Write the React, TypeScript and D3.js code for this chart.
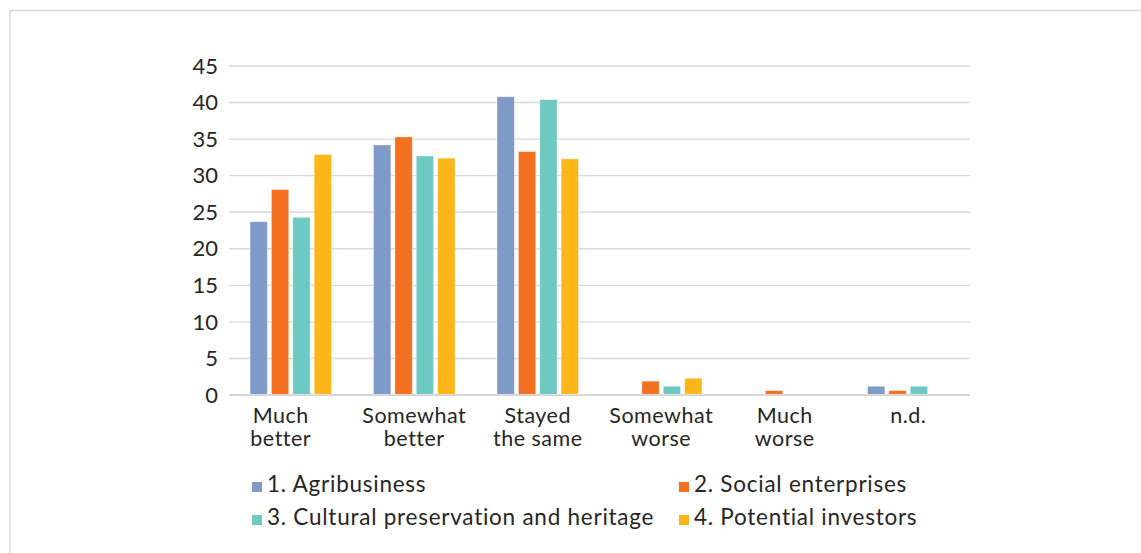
import React, { useRef, useEffect } from 'react'
import * as d3 from 'd3'

const categories = [['Much', 'better'], ['Somewhat', 'better'], ['Stayed', 'the same'], ['Somewhat', 'worse'], ['Much', 'worse'], ['n.d.']]
const seriesNames = ['1. Agribusiness', '2. Social enterprises', '3. Cultural preservation and heritage', '4. Potential investors']
const seriesColors = ['#7f99c9', '#f37021', '#6fc9c3', '#fdb61a']
const agribusiness = [23.7, 34.2, 40.8, 0, 0, 1.2]
const socialEnterprises = [28.1, 35.3, 33.3, 1.9, 0.6, 0.6]
const culturalHeritage = [24.3, 32.7, 40.4, 1.2, 0, 1.2]
const potentialInvestors = [32.9, 32.4, 32.3, 2.3, 0, 0]
const yTicks = [0, 5, 10, 15, 20, 25, 30, 35, 40, 45]

const FONT = 'Lato, "Open Sans", sans-serif'

const Chart: React.FC = () => {
  const ref = useRef<SVGSVGElement>(null)
  useEffect(() => {
    const width = 1141
    const height = 553
    const svg = d3.select(ref.current)
    svg.selectAll('*').remove()

    // outer chart border, runs off the right and bottom edge
    svg
      .append('rect')
      .attr('x', 10)
      .attr('y', 10.5)
      .attr('width', width + 50)
      .attr('height', height + 50)
      .attr('fill', '#fff')
      .attr('stroke', '#d9d9d9')
      .attr('stroke-width', 1.5)

    const margin = { left: 229, right: 171, top: 66, bottom: 158 }
    const x0 = d3
      .scaleBand<number>()
      .domain(d3.range(categories.length))
      .range([margin.left, width - margin.right])
    const x1 = d3
      .scaleBand<number>()
      .domain(d3.range(seriesNames.length))
      .range([19, x0.bandwidth() - 19])
    const y = d3
      .scaleLinear()
      .domain([0, 45])
      .range([height - margin.bottom, margin.top])

    // grid
    svg
      .append('g')
      .selectAll('line')
      .data(yTicks)
      .join('line')
      .attr('x1', margin.left)
      .attr('x2', width - margin.right)
      .attr('y1', d => y(d))
      .attr('y2', d => y(d))
      .attr('stroke', d => (d === 0 ? '#c8c8c8' : '#d9d9d9'))
      .attr('stroke-width', 1.4)

    svg
      .append('g')
      .style('font', `22px ${FONT}`)
      .attr('fill', '#262626')
      .attr('text-anchor', 'end')
      .selectAll('text')
      .data(yTicks)
      .join('text')
      .attr('x', 218)
      .attr('y', d => y(d))
      .attr('dy', '0.35em')
      .text(d => d)

    const series = [agribusiness, socialEnterprises, culturalHeritage, potentialInvestors]
    svg
      .append('g')
      .selectAll('g')
      .data(series)
      .join('g')
      .attr('fill', (d, i) => seriesColors[i])
      .each(function(vals, si) {
        d3.select(this)
          .selectAll('rect')
          .data(vals.map((v, ci) => ({ v, ci })).filter(d => d.v > 0))
          .join('rect')
          .attr('x', d => (x0(d.ci) as number) + (x1(si) as number) + 2)
          .attr('width', x1.bandwidth() - 4)
          .attr('y', d => y(d.v))
          .attr('height', d => y(0) - y(d.v) - 0.7)
          .attr('stroke', '#fff')
          .attr('stroke-opacity', 0.5)
          .attr('stroke-width', 0.8)
      })

    // category labels, one text per line
    const catLines = categories.flatMap((lines, ci) => lines.map((t, li) => ({ t, ci, li })))
    svg
      .append('g')
      .style('font', `21.5px ${FONT}`)
      .style('letter-spacing', '0.5px')
      .attr('fill', '#262626')
      .attr('text-anchor', 'middle')
      .selectAll('text')
      .data(catLines)
      .join('text')
      .attr('x', d => (x0(d.ci) as number) + x0.bandwidth() / 2 - (d.ci === 0 ? 10 : 0))
      .attr('y', d => 423 + d.li * 23)
      .text(d => d.t)

    // legend
    const legendPos = [
      [252, 492],
      [679, 492],
      [252, 525],
      [679, 525],
    ]
    const leg = svg
      .append('g')
      .selectAll('g')
      .data(seriesNames)
      .join('g')
      .attr('transform', (d, i) => `translate(${legendPos[i][0]},${legendPos[i][1]})`)
    leg
      .append('rect')
      .attr('x', 0)
      .attr('y', -10)
      .attr('width', 10)
      .attr('height', 10)
      .attr('fill', (d, i) => seriesColors[i])
    leg
      .append('text')
      .attr('x', 15)
      .style('font', `22.5px ${FONT}`)
      .style('letter-spacing', '0.75px')
      .attr('fill', '#262626')
      .text(d => d)
  }, [])

  return <svg ref={ref} width={1141} height={553} style={{ position: 'absolute', left: 0, top: 0 }} />
}

const App: React.FC = () => {
  return (
    <div id="container">
      <Chart />
    </div>
  )
}

export default App
